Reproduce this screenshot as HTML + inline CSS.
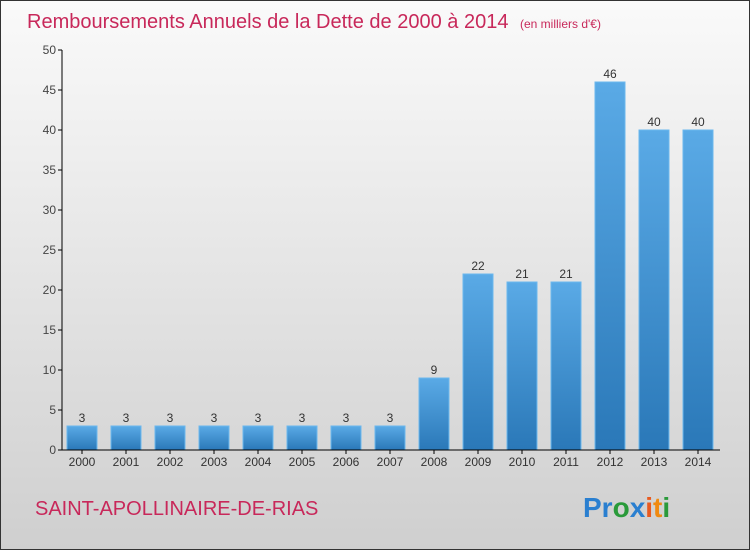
<!DOCTYPE html>
<html><head><meta charset="utf-8"><style>
body{margin:0;width:750px;height:550px;overflow:hidden;font-family:"Liberation Sans",sans-serif}
</style></head><body>
<svg width="750" height="550" xmlns="http://www.w3.org/2000/svg">
<defs>
<linearGradient id="bg" x1="0" y1="0" x2="0" y2="1"><stop offset="0" stop-color="#fafafa"/><stop offset="1" stop-color="#cfcfcf"/></linearGradient>
<linearGradient id="bar" x1="0" y1="0" x2="0" y2="1"><stop offset="0" stop-color="#5aaae6"/><stop offset="1" stop-color="#2a78b8"/></linearGradient>
</defs>
<rect x="0.5" y="0.5" width="749" height="549" fill="url(#bg)" stroke="#333"/>
<text x="27" y="28" font-size="20" fill="#c8285a">Remboursements Annuels de la Dette de 2000 à 2014 <tspan font-size="12" dx="6">(en milliers d'€)</tspan></text>
<g id="plot"></g>
<text x="35" y="515" font-size="20" fill="#c8285a">SAINT-APOLLINAIRE-DE-RIAS</text>
<g font-size="28" font-weight="bold" font-family="Liberation Sans, sans-serif">
<text x="583" y="517"><tspan fill="#2a7fd0">Pr</tspan><tspan fill="#2a9a3a">o</tspan><tspan fill="#2a7fd0">x</tspan><tspan fill="#e85a20">i</tspan><tspan fill="#f08a10">t</tspan><tspan fill="#2a9a3a">i</tspan></text>
</g>
</svg>
<script>
const categories=["2000","2001","2002","2003","2004","2005","2006","2007","2008","2009","2010","2011","2012","2013","2014"];
const values=[3,3,3,3,3,3,3,3,9,22,21,21,46,40,40];
const yTicks=[0,5,10,15,20,25,30,35,40,45,50];
const NS="http://www.w3.org/2000/svg";
const g=document.getElementById('plot');
const x0=62,y0=450,yTop=50,yMax=50,step=44,bw=30;
const y=v=>y0-(v/yMax)*(y0-yTop);
const xc=i=>x0+20+i*step;
function el(t,a,p){const e=document.createElementNS(NS,t);for(const k in a)e.setAttribute(k,a[k]);(p||g).appendChild(e);return e;}
yTicks.forEach(t=>{
 const l=el('line',{x1:x0-4,x2:x0,y1:y(t),y2:y(t),stroke:'#000'});
 
 
 const tx=el('text',{x:x0-6,y:y(t)+4,'text-anchor':'end','font-size':12,fill:'#444'});
 tx.textContent=t;
 
 
});
values.forEach((v,i)=>{
 const r=el('rect',{x:xc(i)-bw/2,y:y(v),width:bw,height:y0-y(v),fill:'url(#bar)',stroke:'#6bb8ee','stroke-width':1});
 
 
 const t=el('text',{x:xc(i),y:y(v)-4,'text-anchor':'middle','font-size':12,fill:'#333'});
 t.textContent=v;
 
 
 const c=el('text',{x:xc(i),y:y0+16,'text-anchor':'middle','font-size':12,fill:'#333'});
 c.textContent=categories[i];
 
 
 const tk=el('line',{x1:xc(i),x2:xc(i),y1:y0,y2:y0+4,stroke:'#000'});
 
 
});
const ya=el('line',{x1:x0,x2:x0,y1:yTop,y2:y0,stroke:'#000'});


const xa=el('line',{x1:x0,x2:720,y1:y0,y2:y0,stroke:'#000'});


</script>
</body></html>
